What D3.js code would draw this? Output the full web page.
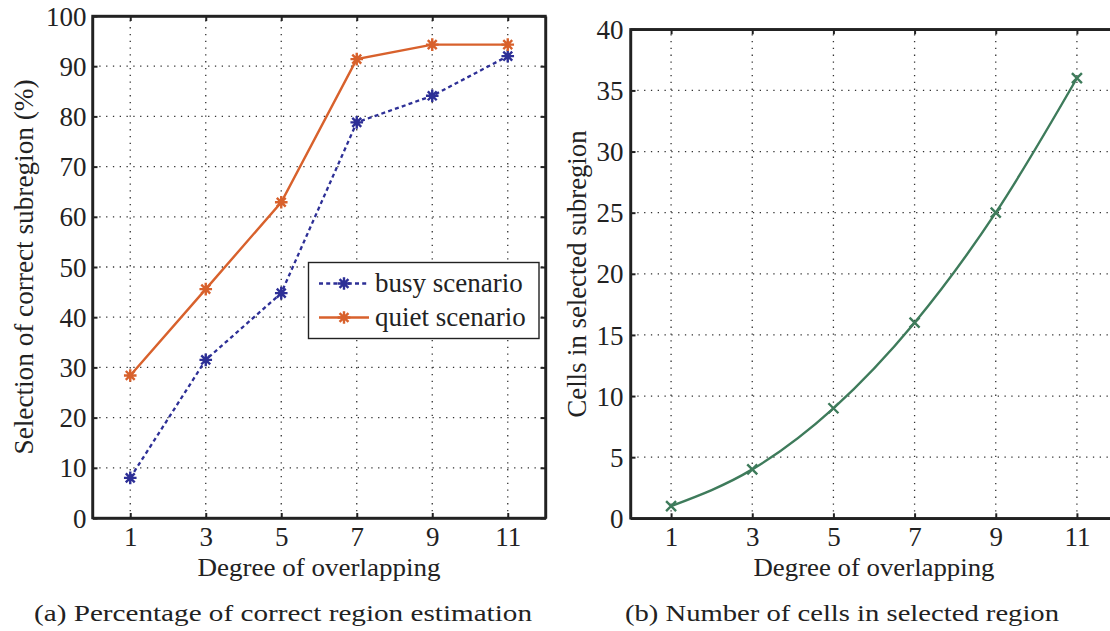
<!DOCTYPE html>
<html>
<head>
<meta charset="utf-8">
<script src="https://cdn.jsdelivr.net/npm/d3@7"></script>
<style>
  html, body { margin: 0; padding: 0; background: #fff; }
  svg { display: block; }
  text { font-family: "Liberation Serif", "Times New Roman", serif; fill: #222; }
</style>
</head>
<body>
<svg id="chart" width="1110" height="631"></svg>
<script>
// ---------------- data ----------------
const degree = [1, 3, 5, 7, 9, 11];
const xTickValues = [1, 3, 5, 7, 9, 11];
const busyScenario = [8.0, 31.5, 44.8, 78.8, 84.1, 92.0];
const quietScenario = [28.4, 45.6, 62.9, 91.4, 94.3, 94.3];
const cellsSelected = [1, 4, 9, 16, 25, 36];
const yTicksA = [0, 10, 20, 30, 40, 50, 60, 70, 80, 90, 100];
const yTicksB = [0, 5, 10, 15, 20, 25, 30, 35, 40];
const seriesNames = ["busy scenario", "quiet scenario"];
const captionA = "(a) Percentage of correct region estimation";
const captionB = "(b) Number of cells in selected region";
const xTitle = "Degree of overlapping";
const yTitleA = "Selection of correct subregion (%)";
const yTitleB = "Cells in selected subregion";

// ---------------- styles ----------------
const BLUE = "#2d2f96", ORANGE = "#d8612c", GREEN = "#3e7b5b";
const AXIS = "#222";
const FS = 27;
const TFS = 26;

const svg = d3.select("#chart");

function asterisk(g, cx, cy, r, color) {
  const d = r * Math.SQRT1_2;
  const p = `M${cx - r},${cy}L${cx + r},${cy}M${cx},${cy - r}L${cx},${cy + r}` +
            `M${cx - d},${cy - d}L${cx + d},${cy + d}M${cx - d},${cy + d}L${cx + d},${cy - d}`;
  g.append("path").attr("d", p).attr("stroke", color).attr("stroke-width", 2.4).attr("fill", "none");
}
function cross(g, cx, cy, r, color) {
  const p = `M${cx - r},${cy - r}L${cx + r},${cy + r}M${cx - r},${cy + r}L${cx + r},${cy - r}`;
  g.append("path").attr("d", p).attr("stroke", color).attr("stroke-width", 2.4).attr("fill", "none");
}

function panel(opts) {
  const { x, y, yTicks, yPad } = opts;
  const g = svg.append("g");
  const [x0, x1] = x.range();
  const [y0, y1] = y.range();

  // grid
  const grid = g.append("g").attr("stroke", "#333").attr("stroke-width", 1.3)
    .attr("stroke-dasharray", "1.3,5.5");
  grid.selectAll("line.v").data(xTickValues).join("line")
    .attr("x1", d => x(d)).attr("x2", d => x(d)).attr("y1", y0).attr("y2", y1);
  grid.selectAll("line.h").data(yTicks.filter(t => t !== y.domain()[0] && t !== y.domain()[1])).join("line")
    .attr("y1", d => y(d)).attr("y2", d => y(d)).attr("x1", x0).attr("x2", x1);

  // axes
  const ax = g.append("g");
  ax.append("g").attr("transform", `translate(0,${y0})`)
    .call(d3.axisBottom(x).tickValues(xTickValues).tickSize(-5).tickSizeOuter(0).tickPadding(9));
  ax.append("g").attr("transform", `translate(0,${y1})`)
    .call(d3.axisTop(x).tickValues(xTickValues).tickSize(-5).tickSizeOuter(0).tickFormat(""));
  const left = ax.append("g").attr("transform", `translate(${x0},0)`)
    .call(d3.axisLeft(y).tickValues(yTicks).tickSize(-5).tickSizeOuter(0).tickPadding(yPad));
  ax.append("g").attr("transform", `translate(${x1},0)`)
    .call(d3.axisRight(y).tickValues(yTicks).tickSize(-5).tickSizeOuter(0).tickFormat(""));
  ax.selectAll(".domain").attr("stroke", AXIS).attr("stroke-width", 2.4);
  ax.selectAll(".tick line").attr("stroke", AXIS).attr("stroke-width", 2);
  ax.selectAll("text").attr("font-family", "Liberation Serif").attr("font-size", FS).attr("fill", "#222");
  left.selectAll("text").attr("dy", "0.34em");
  g.append("rect").attr("x", x0).attr("y", y1).attr("width", x1 - x0).attr("height", y0 - y1)
    .attr("fill", "none").attr("stroke", AXIS).attr("stroke-width", 2.4);
  return g;
}

// ---------------- panel (a) ----------------
const xA = d3.scaleLinear().domain([0, 12]).range([92.5, 545.5]);
const yA = d3.scaleLinear().domain([0, 100]).range([518, 16]);
const gA = panel({ x: xA, y: yA, yTicks: yTicksA, yPad: 6 });

const lineA = d3.line().x((d, i) => xA(degree[i])).y(d => yA(d));
gA.append("path").attr("d", lineA(busyScenario)).attr("fill", "none")
  .attr("stroke", BLUE).attr("stroke-width", 2.3).attr("stroke-dasharray", "4,3.2");
gA.append("path").attr("d", lineA(quietScenario)).attr("fill", "none")
  .attr("stroke", ORANGE).attr("stroke-width", 2.4);
busyScenario.forEach((v, i) => asterisk(gA, xA(degree[i]), yA(v), 6.3, BLUE));
quietScenario.forEach((v, i) => asterisk(gA, xA(degree[i]), yA(v), 6.3, ORANGE));

// legend
const leg = gA.append("g");
leg.append("rect").attr("x", 308.5).attr("y", 262.5).attr("width", 230.5).attr("height", 76)
  .attr("fill", "#fff").attr("stroke", AXIS).attr("stroke-width", 1.4);
[[BLUE, "4,3.2"], [ORANGE, null]].forEach(([c, dash], i) => {
  const ly = 283.5 + i * 34;
  const ln = leg.append("line").attr("x1", 319).attr("x2", 369).attr("y1", ly).attr("y2", ly)
    .attr("stroke", c).attr("stroke-width", 2.4);
  if (dash) ln.attr("stroke-dasharray", dash);
  asterisk(leg, 344, ly, 6.3, c);
  leg.append("text").attr("x", 375).attr("y", ly).attr("dy", "0.3em")
    .attr("font-size", FS).text(seriesNames[i]);
});

svg.append("text").attr("x", (92.5 + 545.5) / 2).attr("y", 576).attr("text-anchor", "middle")
  .attr("font-size", TFS).attr("textLength", 243).attr("lengthAdjust", "spacingAndGlyphs").text(xTitle);
svg.append("text").attr("transform", `translate(33,267) rotate(-90)`).attr("text-anchor", "middle")
  .attr("font-size", FS).attr("textLength", 375).attr("lengthAdjust", "spacingAndGlyphs").text(yTitleA);
svg.append("text").attr("x", 283).attr("y", 621).attr("text-anchor", "middle")
  .attr("font-family", "DejaVu Serif").attr("font-size", 23)
  .attr("textLength", 498).attr("lengthAdjust", "spacingAndGlyphs").text(captionA);

// ---------------- panel (b) ----------------
const xB = d3.scaleLinear().domain([0, 12]).range([630.5, 1117.5]);
const yB = d3.scaleLinear().domain([0, 40]).range([518.3, 29.3]);
const gB = panel({ x: xB, y: yB, yTicks: yTicksB, yPad: 7 });
const lineB = d3.line().x((d, i) => xB(degree[i])).y(d => yB(d)).curve(d3.curveMonotoneX);
gB.append("path").attr("d", lineB(cellsSelected)).attr("fill", "none")
  .attr("stroke", GREEN).attr("stroke-width", 2.4);
cellsSelected.forEach((v, i) => cross(gB, xB(degree[i]), yB(v), 5, GREEN));

svg.append("text").attr("x", (630.5 + 1117.5) / 2).attr("y", 576).attr("text-anchor", "middle")
  .attr("font-size", TFS).attr("textLength", 241).attr("lengthAdjust", "spacingAndGlyphs").text(xTitle);
svg.append("text").attr("transform", `translate(586,274) rotate(-90)`).attr("text-anchor", "middle")
  .attr("font-size", FS).attr("textLength", 287).attr("lengthAdjust", "spacingAndGlyphs").text(yTitleB);
svg.append("text").attr("x", 842).attr("y", 621).attr("text-anchor", "middle")
  .attr("font-family", "DejaVu Serif").attr("font-size", 23)
  .attr("textLength", 434).attr("lengthAdjust", "spacingAndGlyphs").text(captionB);
</script>
</body>
</html>
